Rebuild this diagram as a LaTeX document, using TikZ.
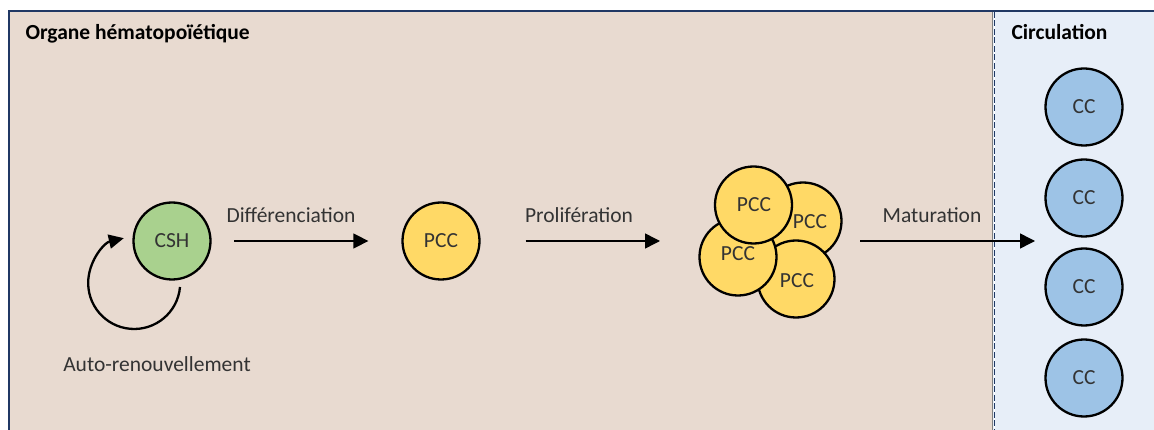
\documentclass[tikz,border=0pt]{standalone}
\usepackage{fontspec}
\setmainfont{Carlito}
\usetikzlibrary{arrows.meta}
\definecolor{beige}{HTML}{E8DAD0}
\definecolor{lblue}{HTML}{E7EEF8}
\definecolor{frameblue}{HTML}{203864}
\definecolor{cshgreen}{HTML}{A9D18E}
\definecolor{pccyellow}{HTML}{FFD966}
\definecolor{ccblue}{HTML}{9DC3E6}
\definecolor{txt}{HTML}{333333}
\begin{document}
\begin{tikzpicture}[x=1pt,y=-1pt,
  every node/.style={font=\fontsize{21.5}{25}\selectfont, text=txt},
  cell/.style={circle, draw=black, line width=2.3pt, minimum size=77pt, inner sep=0pt},
  arr/.style={line width=1.5pt, draw=black, -{Triangle[length=15pt,width=15pt]}},
  lbl/.style={anchor=base},
  ttl/.style={anchor=base west, font=\fontsize{21.5}{25}\selectfont\bfseries, text=black}]
\useasboundingbox (0,0) rectangle (1154,430);
\fill[white] (0,0) rectangle (1154,430);
% regions
\fill[beige] (9,11) rectangle (993,430);
\fill[lblue] (993,11) rectangle (1154,430);
\draw[gray, line width=1pt] (992,12) -- (992,430);
\draw[white, line width=1.5pt] (994.5,12) -- (994.5,430);
\draw[frameblue, line width=1.6pt, dash pattern=on 6pt off 2.5pt] (994.5,12) -- (994.5,430);
\draw[frameblue, line width=2pt] (9,430) -- (9,11) -- (1154,11);
% titles
\node[ttl] (organe) at (22,40) {Organe hématopoïétique};
\node[ttl] (circ) at (1008,40) {Circulation};
% cells
\node[cell, fill=cshgreen] (csh) at (172,241) {CSH};
\node[cell, fill=pccyellow] (pcc) at (441,241) {PCC};
\node[cell, fill=pccyellow] (pccR) at (803,221) {};
\node[cell, fill=pccyellow] (pccBR) at (796,279) {};
\node[cell, fill=pccyellow] (pccBL) at (738,257) {};
\node[cell, fill=pccyellow] (pccTL) at (753.5,205) {};
\node (tR) at (810,222) {PCC};
\node (tBR) at (797,281) {PCC};
\node (tBL) at (738,254) {PCC};
\node (tTL) at (754,205) {PCC};
\coordinate (cluster) at (770,241);
\foreach \y/\n in {107/1,198/2,287/3,378/4}
  \node[cell, fill=ccblue] (cc\n) at (1084,\y) {CC};
\coordinate (ccol) at (1084,241);
% arrows
\draw[arr, shorten <=22.5pt, shorten >=33pt] (csh) -- (pcc);
\draw[arr, shorten <=45pt, shorten >=110pt] (pcc) -- (cluster);
\draw[arr, shorten <=90pt, shorten >=49pt] (cluster) -- (ccol);
% self-renewal loop
\coordinate (loopstart) at (180,287);
\draw[line width=2.3pt, -{Triangle[length=15pt,width=14pt]}] (loopstart) arc[start angle=5, end angle=257, radius=46];
% labels
\node[lbl] (ldiff) at (291,223) {Différenciation};
\node[lbl] (lprol) at (579,223) {Prolifération};
\node[lbl] (lmat) at (932,223) {Maturation};
\node[lbl] (lauto) at (157,371) {Auto-renouvellement};
\end{tikzpicture}
\end{document}
